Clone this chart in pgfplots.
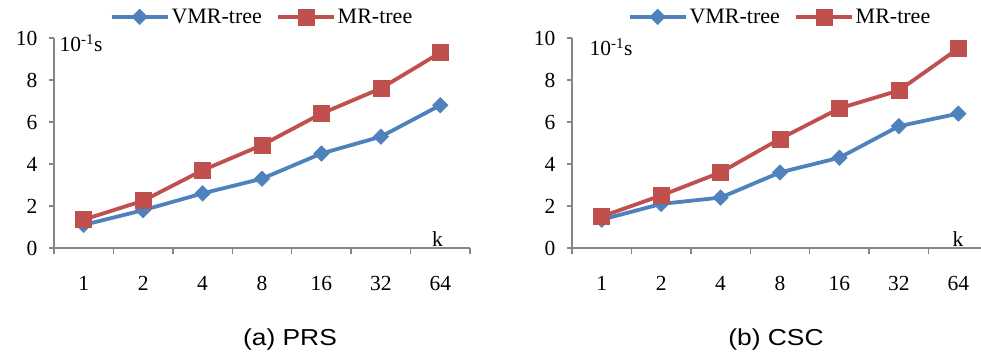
\documentclass[border=0pt]{standalone}
\usepackage{fontspec}
\setmainfont{Liberation Serif}
\newfontfamily\capfont{Liberation Sans}
\usepackage{graphicx}
\usepackage{pgfplots}
\pgfplotsset{compat=1.18}
\definecolor{vblue}{HTML}{4F81BD}
\definecolor{mred}{HTML}{C0504D}
\definecolor{axgray}{HTML}{868686}
\pgfplotsset{
  mystyle/.style={
    scale only axis, width=416bp, height=210bp,
    anchor=south west,
    xmin=-0.5, xmax=6.5, ymin=0, ymax=10,
    axis lines=left, axis line style={-, axgray, line width=1.5bp},
    xtick={0,...,6}, xticklabels={1,2,4,8,16,32,64},
    minor xtick={-0.5,0.5,...,6.5},
    ytick={0,2,...,10},
    tick align=outside, major tick length=5bp, minor tick length=6bp,
    every major x tick/.append style={draw=none},
    every tick/.append style={axgray, line width=1.5bp},
    every minor tick/.append style={axgray, line width=1.5bp},
    /pgf/number format/assume math mode=true,
    tick label style={font=\fontsize{21.5bp}{24bp}\selectfont},
    xticklabel style={yshift=-20bp},
    yticklabel style={xshift=-8bp},
    legend columns=2,
    legend style={at={(0.5,1)}, anchor=south, yshift=11bp, draw=none, fill=none,
      font=\fontsize{22bp}{25bp}\selectfont, inner sep=0pt,
      /tikz/every even column/.append style={column sep=12bp}},
    legend image code/.code={\draw[mark repeat=2, mark phase=2, ##1] plot coordinates {(0bp,0bp) (28bp,0bp) (56bp,0bp)};},
    clip=false,
  },
  vmr/.style={color=vblue, line width=3.8bp, mark=square*, mark size=5.5bp, mark options={rotate=45, fill=vblue, line width=0.5bp}},
  mr/.style={color=mred, line width=3.8bp, mark=square*, mark size=8bp, mark options={fill=mred, line width=0.5bp}},
}
\begin{document}
\begin{tikzpicture}
\useasboundingbox (0,0) rectangle (981bp,358bp);
% (a) PRS
\begin{axis}[mystyle, at={(54bp,110bp)}]
\addplot[vmr] coordinates {(0,1.1) (1,1.8) (2,2.6) (3,3.3) (4,4.5) (5,5.3) (6,6.8)};
\addplot[mr] coordinates {(0,1.35) (1,2.25) (2,3.7) (3,4.9) (4,6.4) (5,7.6) (6,9.3)};
\legend{VMR-tree, MR-tree}
\node[anchor=west, font=\fontsize{21.5bp}{24bp}\selectfont] at (rel axis cs:0,1) [xshift=2bp, yshift=-5bp] {10\textsuperscript{-1}s};
\node[anchor=south, font=\fontsize{21.5bp}{24bp}\selectfont, inner sep=1bp] at (rel axis cs:0.922,0) {k};
\end{axis}
% (b) CSC
\begin{axis}[mystyle, at={(572bp,110bp)}]
\addplot[vmr] coordinates {(0,1.35) (1,2.1) (2,2.4) (3,3.6) (4,4.3) (5,5.8) (6,6.4)};
\addplot[mr] coordinates {(0,1.5) (1,2.5) (2,3.6) (3,5.2) (4,6.65) (5,7.5) (6,9.5)};
\legend{VMR-tree, MR-tree}
\node[anchor=west, font=\fontsize{21.5bp}{24bp}\selectfont] at (rel axis cs:0,1) [xshift=14bp, yshift=-9bp] {10\textsuperscript{-1}s};
\node[anchor=south, font=\fontsize{21.5bp}{24bp}\selectfont, inner sep=1bp] at (rel axis cs:0.928,0) {k};
\end{axis}
\node[font=\capfont\fontsize{22bp}{26bp}\selectfont] at (290bp,18bp) {\scalebox{1.2}[1.05]{(a) PRS}};
\node[font=\capfont\fontsize{22bp}{26bp}\selectfont] at (776bp,18bp) {\scalebox{1.2}[1.05]{(b) CSC}};
\end{tikzpicture}
\end{document}
